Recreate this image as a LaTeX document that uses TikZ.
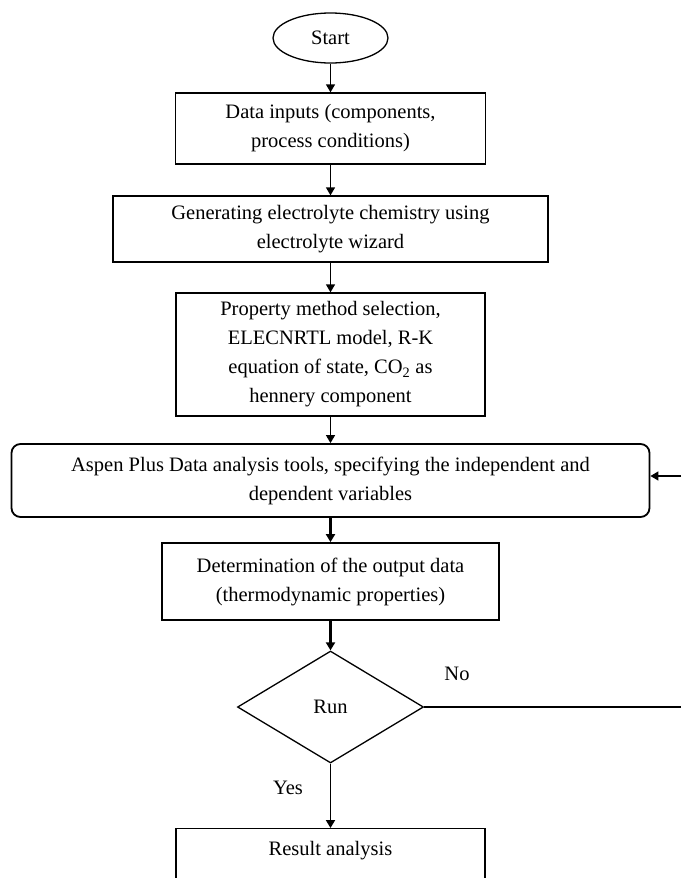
\documentclass[tikz,border=0pt]{standalone}
\usepackage{fontspec}
\setmainfont{Liberation Serif}
\usetikzlibrary{arrows.meta, shapes, positioning}
\tikzset{> = { Triangle[length = 8pt, width = 9pt] }}
\tikzset{
	box/.style = { draw, rectangle, line width = 1.3pt, align = center, inner sep = 0pt },
	flowline/.style = { ->, line width = 1.3pt },
	heavyline/.style = { ->, line width = 2.6pt }
}

\begin{document}
\begin{tikzpicture}[x = 1pt, y = -1pt, font = \fontsize{20.5}{29}\selectfont]
		\useasboundingbox (0, 0) rectangle (681, 878);
		\clip (0, 0) rectangle (681, 878);

		\node [draw, ellipse, line width = 1.3pt, minimum width = 115pt, minimum height = 50pt, inner sep = 0pt] (start) at (330.5, 38) {Start};
		\node [box, minimum width = 310pt, minimum height = 71pt] (inputs) at (330.5, 128.5) {Data inputs (components,\\process conditions)};
		\node [box, minimum width = 435pt, minimum height = 66pt] (chem) at (330.5, 229) {Generating electrolyte chemistry using\\electrolyte wizard};
		\node [box, minimum width = 309pt, minimum height = 123pt] (prop) at (330.5, 354.5) {Property method selection,\\ELECNRTL model, R-K\\equation of state, CO\textsubscript{2} as\\hennery component};
		\node [box, rounded corners = 9pt, line width = 1.8pt, minimum width = 638pt, minimum height = 73pt] (aspen) at (330.5, 480.5) {Aspen Plus Data analysis tools, specifying the independent and\\dependent variables};
		\node [box, line width = 1.8pt, minimum width = 337pt, minimum height = 77pt] (output) at (330.5, 581.5) {Determination of the output data\\(thermodynamic properties)};
		\node [draw, diamond, aspect = 1.66, line width = 1.3pt, minimum width = 186pt, minimum height = 112pt, inner sep = 0pt] (run) at (330.5, 707) {Run};
		\node [box, anchor = north, minimum width = 309pt, inner ysep = 13pt, text depth = 40pt] (result) at (330.5, 828) {Result analysis};

		\node (no) at (457, 674) {No};
		\node (yes) at (288, 788) {Yes};

		\draw [flowline] (start.south) -- (inputs.north);
		\draw [flowline] (inputs.south) -- (chem.north);
		\draw [flowline] (chem.south) -- (prop.north);
		\draw [flowline] (prop.south) -- (aspen.north);
		\draw [heavyline] (aspen.south) -- (output.north);
		\draw [heavyline] (output.south) -- (run.north);
		\draw [->, line width = 1.8pt] (run.south) -- (result.north);

		\coordinate (noend) at (681, 707);
		\draw [line width = 2pt] (run.east) -- (noend);
		\coordinate (back) at (681, 476);
		\draw [->, line width = 1.4pt] (back) -- (back -| aspen.east);
	\end{tikzpicture}
\end{document}
